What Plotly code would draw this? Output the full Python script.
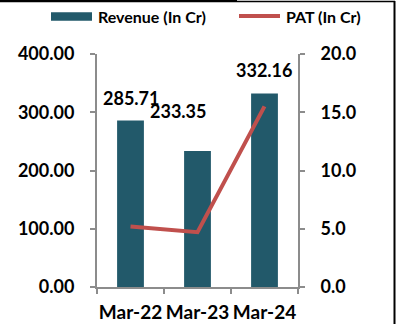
import plotly.graph_objects as go

# ---- data ----
categories = ["Mar-22", "Mar-23", "Mar-24"]
revenue = [285.71, 233.35, 332.16]
pat = [5.2, 4.7, 15.5]
revenue_labels = ["285.71", "233.35", "332.16"]
left_ticks = [0, 100, 200, 300, 400]
right_ticks = [0, 5, 10, 15, 20]

BAR_COLOR = "#22596A"
LINE_COLOR = "#C0504D"
AXIS_COLOR = "#8C8C8C"
FONT = dict(family="Lato", color="black", weight="bold")

W, H = 396, 324
L, R, T, B = 97, 98, 54, 37
PW, PH = W - L - R, H - T - B


def px_x(px):
    return (px - L) / PW


def px_y(py):
    return (H - B - py) / PH


fig = go.Figure()
fig.add_trace(go.Bar(x=categories, y=revenue, name="Revenue (In Cr)",
                     marker=dict(color=BAR_COLOR, line=dict(width=0)),
                     yaxis="y", showlegend=False))
fig.add_trace(go.Scatter(x=categories, y=pat, name="PAT (In Cr)", mode="lines",
                         line=dict(color=LINE_COLOR, width=4),
                         yaxis="y2", showlegend=False))

# data labels (manually placed as in the reference)
label_offsets = [(0, 324), (-20, 303), (-1, 372)]
for cat, txt, (dx, yv) in zip(categories, revenue_labels, label_offsets):
    fig.add_annotation(x=cat, y=yv, xref="x", yref="y", text=txt, showarrow=False,
                       xshift=dx, xanchor="center", yanchor="middle",
                       font=dict(size=18, **FONT))

# custom legend
shapes = [
    dict(type="rect", xref="paper", yref="paper", x0=px_x(51), x1=px_x(92),
         y0=px_y(20.7), y1=px_y(12.3), fillcolor=BAR_COLOR, line=dict(width=0)),
    dict(type="line", xref="paper", yref="paper", x0=px_x(239), x1=px_x(280),
         y0=px_y(16), y1=px_y(16), line=dict(color=LINE_COLOR, width=4)),
    # frame lines
    dict(type="line", xref="paper", yref="paper", x0=px_x(0), x1=px_x(237),
         y0=px_y(1), y1=px_y(1), line=dict(color="black", width=2.5)),
    dict(type="line", xref="paper", yref="paper", x0=px_x(237), x1=px_x(395),
         y0=px_y(1.5), y1=px_y(1.5), line=dict(color="black", width=1.5)),
    dict(type="line", xref="paper", yref="paper", x0=px_x(394.5), x1=px_x(394.5),
         y0=px_y(1), y1=px_y(324), line=dict(color="black", width=2)),
]
fig.add_annotation(x=px_x(96), y=px_y(16.5), xref="paper", yref="paper",
                   text="Revenue (In Cr)", showarrow=False, xanchor="left",
                   yanchor="middle", font=dict(size=16, **FONT))
fig.add_annotation(x=px_x(284), y=px_y(16.5), xref="paper", yref="paper",
                   text="PAT (In Cr)", showarrow=False, xanchor="left",
                   yanchor="middle", font=dict(size=16, **FONT))

axis_common = dict(showline=True, linecolor=AXIS_COLOR, linewidth=2, ticks="outside",
                   ticklen=5, tickcolor=AXIS_COLOR, tickwidth=2, showgrid=False,
                   zeroline=False, automargin=False)

fig.update_layout(
    width=W, height=H,
    margin=dict(l=L, r=R, t=T, b=B, pad=0, autoexpand=False),
    paper_bgcolor="white", plot_bgcolor="white",
    bargap=0.6,
    shapes=shapes,
    font=dict(size=18, **FONT),
    xaxis=dict(type="category", range=[-0.5, 2.5], tickson="boundaries",
               tickangle=0, tickfont=dict(size=19, **FONT), ticklabelstandoff=7,
               **axis_common),
    yaxis=dict(range=[0, 400], tickvals=left_ticks, tickformat=".2f",
               tickfont=dict(size=18, **FONT), ticklabelstandoff=12, **axis_common),
    yaxis2=dict(range=[0, 20], tickvals=right_ticks, tickformat=".1f", overlaying="y",
                side="right", tickfont=dict(size=18, **FONT), ticklabelstandoff=12,
                **axis_common),
)

fig.write_html("out.html")
